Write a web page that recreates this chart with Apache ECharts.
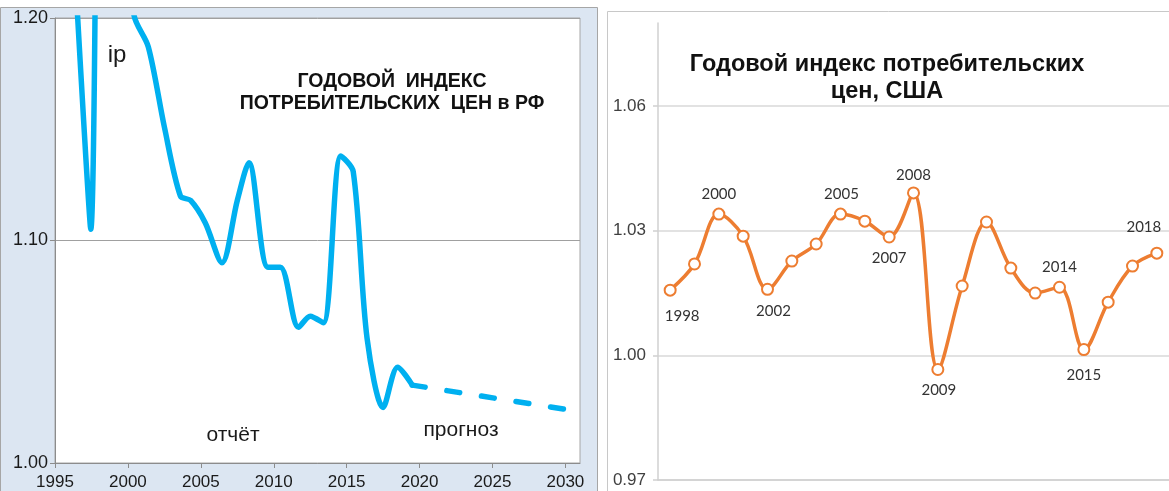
<!DOCTYPE html>
<html><head><meta charset="utf-8">
<script src="https://cdn.jsdelivr.net/npm/echarts@6/dist/echarts.min.js"></script>
<style>html,body{margin:0;padding:0;background:#fff}#c{width:1169px;height:491px}</style>
</head><body><div id="c"></div>
<script>
// ---- Russia: annual CPI index (report) ----
const ruYears = [1996.4, 1997.45, 1998.4, 1999.4, 2000.4, 2001.4, 2002.5, 2003.6, 2004.3, 2005.3, 2006.45, 2007.5, 2008.3, 2009.6, 2010.45, 2011.7, 2012.5, 2013.4, 2014.6, 2015.45, 2016.4, 2017.5, 2018.5, 2019.5];
const ruIndex = [1.218, 1.105, 1.844, 1.365, 1.202, 1.187, 1.151, 1.120, 1.118, 1.108, 1.090, 1.118, 1.135, 1.088, 1.088, 1.061, 1.066, 1.063, 1.138, 1.131, 1.056, 1.025, 1.043, 1.035];
// ---- Russia: forecast ----
const ruForecastYears = [2019.5, 2030.1];
const ruForecastIndex = [1.035, 1.024];
const ruXTicks = [1995, 2000, 2005, 2010, 2015, 2020, 2025, 2030];
const ruYTicks = [1.00, 1.10, 1.20];
// ---- USA: annual CPI index ----
const usYears = ['1998','1999','2000','2001','2002','2003','2004','2005','2006','2007','2008','2009','2010','2011','2012','2013','2014','2015','2016','2017','2018'];
const usIndex = [1.0157, 1.022, 1.034, 1.0287, 1.0159, 1.0227, 1.0268, 1.034, 1.0323, 1.0285, 1.0391, 0.9966, 1.0167, 1.0321, 1.021, 1.015, 1.0164, 1.0014, 1.0128, 1.0215, 1.0246];
const usYTicks = [0.97, 1.00, 1.03, 1.06];
const usLabeledYears = ['1998','2000','2002','2005','2007','2008','2009','2014','2015','2018'];

// label placement (style, not data)
const usLabelOffsets = {
  '1998':[12,26], '2000':[0,-20], '2002':[6,22], '2005':[1,-20], '2007':[0,21],
  '2008':[0,-18], '2009':[1,21], '2014':[0,-20], '2015':[0,26], '2018':[-13,-26]
};

const FONT = 'Liberation Sans';
const chart = echarts.init(document.getElementById('c'), null, {renderer:'canvas'});

const usData = usIndex.map((v, i) => {
  const y = usYears[i];
  const item = {value: v};
  if (usLabeledYears.includes(y)) {
    item.label = {show: true, position: 'inside', offset: usLabelOffsets[y], formatter: y,
      fontFamily: 'Lato', fontSize: 15, color: '#333333'};
  }
  return item;
});

const option = {
  animation: false,
  backgroundColor: '#ffffff',
  textStyle: {fontFamily: FONT},
  graphic: [
    {type:'rect', z:-10, shape:{x:0.5, y:7.5, width:597, height:500}, style:{fill:'#dce6f2', stroke:'#a6a6a6', lineWidth:1}},
    {type:'rect', z:-10, shape:{x:607.5, y:11.5, width:600, height:500}, style:{fill:'#ffffff', stroke:'#c8c8c8', lineWidth:1}},
    {type:'text', z:100, x:117, y:55, style:{text:'ip', font:'24px "Liberation Sans"', fill:'#1a1a1a', align:'center', verticalAlign:'middle'}},
    {type:'text', z:100, x:392, y:81.5, style:{text:'ГОДОВОЙ  ИНДЕКС', font:'bold 19.5px "Liberation Sans"', fill:'#111', align:'center', verticalAlign:'middle'}},
    {type:'text', z:100, x:392, y:104, style:{text:'ПОТРЕБИТЕЛЬСКИХ  ЦЕН в РФ', font:'bold 19.5px "Liberation Sans"', fill:'#111', align:'center', verticalAlign:'middle'}},
    {type:'text', z:100, x:233, y:435, style:{text:'отчёт', font:'21px "Liberation Sans"', fill:'#1a1a1a', align:'center', verticalAlign:'middle'}},
    {type:'text', z:100, x:461, y:430, style:{text:'прогноз', font:'21px "Liberation Sans"', fill:'#1a1a1a', align:'center', verticalAlign:'middle'}},
    {type:'text', z:100, x:887, y:65, style:{text:'Годовой индекс потребительских', font:'bold 23.5px "Liberation Sans"', fill:'#111', align:'center', verticalAlign:'middle'}},
    {type:'text', z:100, x:887, y:92, style:{text:'цен, США', font:'bold 23.5px "Liberation Sans"', fill:'#111', align:'center', verticalAlign:'middle'}}
  ],
  grid: [
    {left:55, top:18, width:525, height:445, show:true, backgroundColor:'#ffffff', borderColor:'#a6a6a6', borderWidth:1},
    {left:658, top:23, width:517, height:457, show:false}
  ],
  xAxis: [
    {type:'value', gridIndex:0, min:1995, max:2031, interval:5,
      axisLine:{show:true, lineStyle:{color:'#8c8c8c'}},
      axisTick:{show:true, length:5, inside:false, customValues:ruXTicks, lineStyle:{color:'#8c8c8c'}},
      axisLabel:{formatter: v => ruXTicks.includes(v) ? String(v) : '', fontFamily:FONT, fontSize:17, color:'#1a1a1a', margin:11},
      splitLine:{show:false}},
    {type:'category', gridIndex:1, data:usYears, boundaryGap:true,
      axisLine:{show:true, lineStyle:{color:'#d0d0d0', width:1.5}},
      axisTick:{show:false}, axisLabel:{show:false}, splitLine:{show:false}}
  ],
  yAxis: [
    {type:'value', gridIndex:0, min:1, max:1.2, interval:0.1,
      axisLine:{show:true, lineStyle:{color:'#8c8c8c'}},
      axisTick:{show:true, length:5, lineStyle:{color:'#8c8c8c'}},
      axisLabel:{formatter: v => v.toFixed(2), fontFamily:FONT, fontSize:18, color:'#1a1a1a', margin:7},
      splitLine:{show:true, lineStyle:{color:'#a0a0a0', width:1}}},
    {type:'value', gridIndex:1, min:0.97, max:1.08, interval:0.03,
      axisLine:{show:true, lineStyle:{color:'#d0d0d0', width:1.5}},
      axisTick:{show:true, length:5, customValues:usYTicks, lineStyle:{color:'#d0d0d0', width:1.5}},
      axisLabel:{formatter: v => usYTicks.some(t => Math.abs(t - v) < 1e-6) ? v.toFixed(2) : '', fontFamily:FONT, fontSize:17, color:'#404040', margin:12},
      splitLine:{show:true, lineStyle:{color:'#d9d9d9', width:1.5}}}
  ],
  series: [
    {type:'line', name:'ip', xAxisIndex:0, yAxisIndex:0, smooth:0.3, showSymbol:false, symbol:'none',
      data: ruYears.map((x, i) => [x, ruIndex[i]]),
      lineStyle:{color:'#00b0f0', width:5.5, cap:'round', join:'round'}, z:5},
    {type:'line', name:'прогноз', xAxisIndex:0, yAxisIndex:0, showSymbol:false, symbol:'none',
      data: ruForecastYears.map((x, i) => [x, ruForecastIndex[i]]),
      lineStyle:{color:'#00b0f0', width:5.5, type:[13,22], cap:'round'}, z:5},
    {type:'line', name:'США', xAxisIndex:1, yAxisIndex:1, smooth:0.35,
      symbol:'emptyCircle', symbolSize:11, showAllSymbol:true,
      itemStyle:{color:'#ed7d31', borderWidth:2},
      lineStyle:{color:'#ed7d31', width:3.5},
      data: usData, z:5}
  ]
};
chart.setOption(option);
</script>
</body></html>
